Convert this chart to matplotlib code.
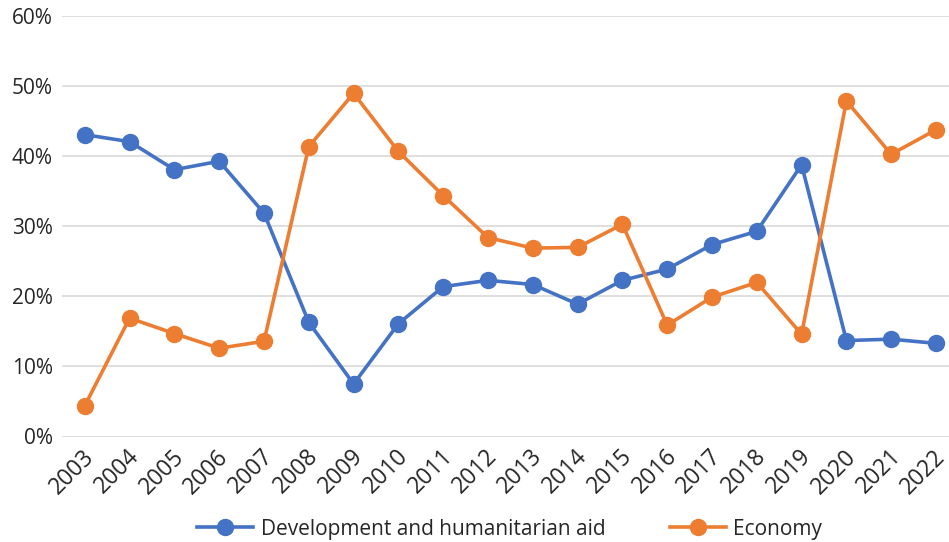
import matplotlib.pyplot as plt
from matplotlib.ticker import FuncFormatter
from matplotlib.transforms import ScaledTranslation

plt.rcParams['font.family'] = ['Open Sans', 'DejaVu Sans']

years = [str(y) for y in range(2003, 2023)]
development = [43.1, 42.1, 38.1, 39.3, 31.9, 16.3, 7.5, 16.1, 21.4, 22.3,
               21.7, 18.9, 22.3, 23.9, 27.4, 29.3, 38.8, 13.7, 13.9, 13.3]
economy = [4.4, 16.9, 14.7, 12.6, 13.6, 41.4, 49.0, 40.7, 34.4, 28.4,
           26.9, 27.0, 30.3, 15.9, 19.9, 22.0, 14.6, 47.9, 40.3, 43.8]

blue = '#4472C4'
orange = '#ED7D31'

fig = plt.figure(figsize=(9.49, 5.42), dpi=100)
ax = fig.add_axes([62.4 / 949, 105.5 / 542, 896 / 949, 420.2 / 542])

x = range(len(years))
ax.plot(x, development, color=blue, lw=2.6, marker='o', ms=11.5,
        label='Development and humanitarian aid', clip_on=False)
ax.plot(x, economy, color=orange, lw=2.6, marker='o', ms=11.5,
        label='Economy', clip_on=False)

ax.set_xlim(-0.5, len(years) - 0.5)
ax.set_ylim(0, 60)
ax.set_yticks(range(0, 61, 10))
ax.yaxis.set_major_formatter(FuncFormatter(lambda v, p: f'{v:.0f}%'))
ax.set_xticks(list(x))
ax.set_xticklabels(years, rotation=45, ha='right', va='center',
                   rotation_mode='anchor')
ax.tick_params(axis='both', length=0, colors='#262626')
ax.tick_params(axis='y', pad=7, labelsize=15)
ax.tick_params(axis='x', pad=12, labelsize=16.5)
shift = ScaledTranslation(6 / 100, 0, fig.dpi_scale_trans)
for lab in ax.get_xticklabels():
    lab.set_transform(lab.get_transform() + shift)
ax.grid(axis='y', color='#d9d9d9', lw=1.2)
ax.set_axisbelow(True)
for s in ax.spines.values():
    s.set_visible(False)

fig.legend(loc='lower center', bbox_to_anchor=(0.537, -0.03), ncol=2,
           frameon=False, fontsize=15, handlelength=2.7, columnspacing=3.1,
           handletextpad=0.35, labelcolor='#262626')

fig.savefig('out.png', dpi=100)
